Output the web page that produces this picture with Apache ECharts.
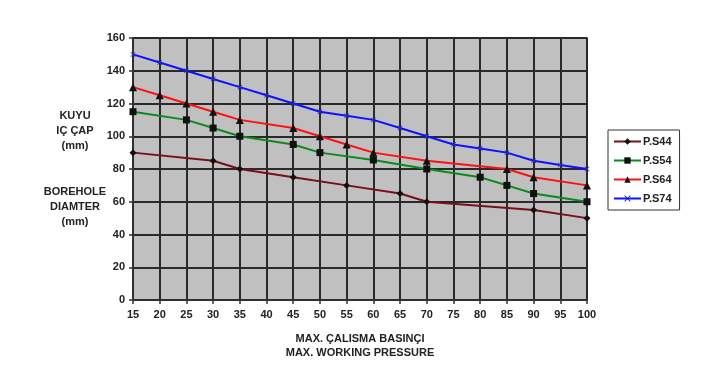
<!DOCTYPE html>
<html>
<head>
<meta charset="utf-8">
<script src="https://cdn.jsdelivr.net/npm/echarts@6/dist/echarts.min.js"></script>
<style>html,body{margin:0;padding:0;background:#fff}#c{width:710px;height:387px}</style>
</head>
<body>
<div id="c"></div>
<script>
// Pressure (x) and borehole diameter (y) per series
const ps44X = [15, 30, 35, 45, 55, 65, 70, 90, 100];
const ps44Y = [90, 85, 80, 75, 70, 65, 60, 55, 50];
const ps54X = [15, 25, 30, 35, 45, 50, 60, 70, 80, 85, 90, 100];
const ps54Y = [115, 110, 105, 100, 95, 90, 85.5, 80, 75, 70, 65, 60];
const ps64X = [15, 20, 25, 30, 35, 45, 50, 55, 60, 70, 85, 90, 100];
const ps64Y = [130, 125, 120, 115, 110, 105, 100, 95, 90, 85, 80, 75, 70];
const ps74X = [15, 20, 25, 30, 35, 40, 45, 50, 55, 60, 65, 70, 75, 80, 85, 90, 95, 100];
const ps74Y = [150, 145, 140, 135, 130, 125, 120, 115, 112.5, 110, 105, 100, 95, 92.5, 90, 85, 82.5, 80];
const seriesNames = ['P.S44', 'P.S54', 'P.S64', 'P.S74'];
const yTitleTop = ['KUYU', 'IÇ ÇAP', '(mm)'];
const yTitleBottom = ['BOREHOLE', 'DIAMTER', '(mm)'];
const xTitle = ['MAX. ÇALISMA BASINÇI', 'MAX. WORKING PRESSURE'];

const zip = (xs, ys) => xs.map((x, i) => [x, ys[i]]);
const FONT = 'Liberation Sans';
const TXT = '#222';
const xPath = 'path://M0,1L1,0L5,4L9,0L10,1L6,5L10,9L9,10L5,6L1,10L0,9L4,5Z';

const chart = echarts.init(document.getElementById('c'), null, {renderer: 'canvas'});
chart.setOption({
  animation: false,
  backgroundColor: '#fff',
  textStyle: {fontFamily: FONT},
  grid: {left: 133, right: 123, top: 38, bottom: 87, show: true, backgroundColor: '#c0c0c0', borderColor: '#333', borderWidth: 1.5},
  xAxis: {
    type: 'value', min: 15, max: 100, interval: 5,
    axisLine: {show: true, onZero: false, lineStyle: {color: '#333', width: 1.5}},
    axisTick: {show: true, length: 4, lineStyle: {color: '#333', width: 1.5}},
    axisLabel: {color: TXT, fontWeight: 'bold', fontSize: 11, margin: 9, fontFamily: FONT},
    splitLine: {show: true, lineStyle: {color: '#2a2a2a', width: 2}},
    name: xTitle.join('\n'), nameLocation: 'middle', nameGap: 32,
    nameTextStyle: {color: TXT, fontWeight: 'bold', fontSize: 11, lineHeight: 14, fontFamily: FONT}
  },
  yAxis: {
    type: 'value', min: 0, max: 160, interval: 20,
    axisLine: {show: true, lineStyle: {color: '#333', width: 1.5}},
    axisTick: {show: true, length: 4, lineStyle: {color: '#333', width: 1.5}},
    axisLabel: {color: TXT, fontWeight: 'bold', fontSize: 11, margin: 8, fontFamily: FONT},
    splitLine: {show: true, lineStyle: {color: '#2a2a2a', width: 2}}
  },
  legend: {
    orient: 'vertical', left: 608, top: 130, width: 70,
    padding: [6, 8, 6, 5], itemGap: 8, itemWidth: 27, itemHeight: 8,
    borderColor: '#333', borderWidth: 1, backgroundColor: '#fff',
    textStyle: {color: TXT, fontWeight: 'bold', fontSize: 11, fontFamily: FONT, padding: [0, 0, 0, -3]},
    data: seriesNames
  },
  graphic: [
    {type: 'text', x: 75, y: 108, style: {text: yTitleTop.join('\n'), textAlign: 'center', textVerticalAlign: 'top', fill: TXT, font: 'bold 11px ' + FONT, lineHeight: 15}},
    {type: 'text', x: 75, y: 184, style: {text: yTitleBottom.join('\n'), textAlign: 'center', textVerticalAlign: 'top', fill: TXT, font: 'bold 11px ' + FONT, lineHeight: 15}}
  ],
  series: [
    {name: seriesNames[0], type: 'line', data: zip(ps44X, ps44Y), symbol: 'diamond', symbolSize: 7,
     lineStyle: {color: '#7a0d1c', width: 2}, itemStyle: {color: '#111'}},
    {name: seriesNames[1], type: 'line', data: zip(ps54X, ps54Y), symbol: 'rect', symbolSize: 7,
     lineStyle: {color: '#0a8a1a', width: 2}, itemStyle: {color: '#111'}},
    {name: seriesNames[2], type: 'line', data: zip(ps64X, ps64Y), symbol: 'triangle', symbolSize: 8,
     lineStyle: {color: '#ff1010', width: 2}, itemStyle: {color: '#111'}},
    {name: seriesNames[3], type: 'line', data: zip(ps74X, ps74Y), symbol: xPath, symbolSize: 5,
     lineStyle: {color: '#1010ff', width: 2}, itemStyle: {color: '#2030c0'}}
  ]
});
</script>
</body>
</html>
